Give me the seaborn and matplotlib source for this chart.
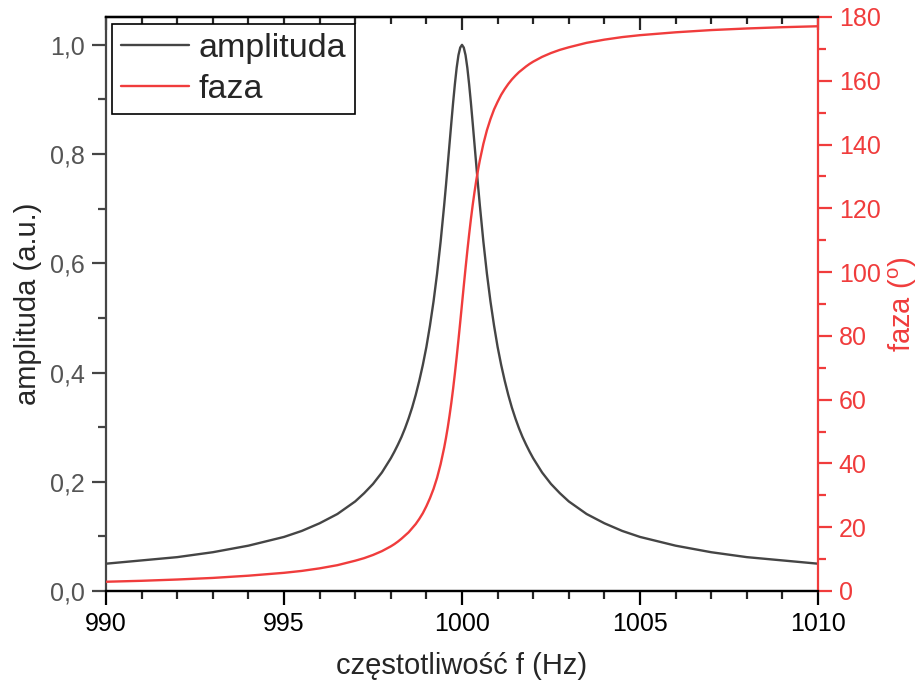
import numpy as np
import pandas as pd
import seaborn as sns
import matplotlib
matplotlib.use('Agg')
from matplotlib import pyplot as plt
from matplotlib.ticker import MultipleLocator, FuncFormatter


# values
frequency = [
    990.0, 991.0, 992.0, 993.0, 994.0, 995.0, 995.5, 996.0, 996.5, 997.0,
    997.25, 997.5, 997.75, 998.0, 998.1, 998.2, 998.3, 998.4, 998.5, 998.6,
    998.7, 998.8, 998.9, 999.0, 999.1, 999.2, 999.3, 999.4, 999.5, 999.55,
    999.6, 999.65, 999.7, 999.75, 999.8, 999.85, 999.9, 999.95, 1000.0,
    1000.05, 1000.1, 1000.15, 1000.2, 1000.25, 1000.3, 1000.35, 1000.4,
    1000.45, 1000.5, 1000.6, 1000.7, 1000.8, 1000.9, 1001.0, 1001.1, 1001.2,
    1001.3, 1001.4, 1001.5, 1001.6, 1001.7, 1001.8, 1001.9, 1002.0, 1002.25,
    1002.5, 1002.75, 1003.0, 1003.5, 1004.0, 1004.5, 1005.0, 1006.0, 1007.0,
    1008.0, 1009.0, 1010.0,
]
amplitude = [
    0.050, 0.056, 0.062, 0.071, 0.083, 0.099, 0.110, 0.124, 0.141, 0.164,
    0.179, 0.196, 0.217, 0.243, 0.255, 0.268, 0.282, 0.298, 0.316, 0.336,
    0.359, 0.385, 0.414, 0.447, 0.486, 0.530, 0.581, 0.640, 0.707, 0.743,
    0.781, 0.819, 0.857, 0.894, 0.928, 0.958, 0.981, 0.995, 1.000,
    0.995, 0.981, 0.958, 0.928, 0.894, 0.857, 0.819, 0.781,
    0.743, 0.707, 0.640, 0.581, 0.530, 0.486, 0.447, 0.414, 0.385,
    0.359, 0.336, 0.316, 0.298, 0.282, 0.268, 0.255, 0.243, 0.217,
    0.196, 0.179, 0.164, 0.141, 0.124, 0.110, 0.099, 0.083, 0.071,
    0.062, 0.056, 0.050,
]
phase = [
    2.9, 3.2, 3.6, 4.1, 4.8, 5.7, 6.3, 7.1, 8.1, 9.5,
    10.3, 11.3, 12.5, 14.0, 14.7, 15.5, 16.4, 17.4, 18.4, 19.7,
    21.0, 22.6, 24.4, 26.6, 29.1, 32.0, 35.5, 39.8, 45.0, 48.0,
    51.3, 55.0, 59.0, 63.4, 68.2, 73.3, 78.7, 84.3, 90.0,
    95.7, 101.3, 106.7, 111.8, 116.6, 121.0, 125.0, 128.7,
    132.0, 135.0, 140.2, 144.5, 148.0, 151.0, 153.4, 155.6, 157.4,
    159.0, 160.4, 161.6, 162.7, 163.6, 164.5, 165.3, 166.0, 167.5,
    168.7, 169.7, 170.5, 171.9, 172.9, 173.7, 174.3, 175.2, 175.9,
    176.4, 176.8, 177.1,
]

GRAY = '#454545'
RED = '#f03c3c'

sns.set_style('ticks')
plt.rcParams['font.family'] = ['Liberation Sans', 'DejaVu Sans']

data = pd.DataFrame({'f': frequency, 'amplituda': amplitude, 'faza': phase})

fig = plt.figure(figsize=(9.22, 6.84), dpi=100)
ax = fig.add_axes([106 / 922, 93 / 684, 712 / 922, 574 / 684])
ax2 = ax.twinx()

sns.lineplot(data=data, x='f', y='amplituda', ax=ax, color=GRAY, lw=1.7,
             sort=False, estimator=None, label='amplituda', legend=False)
sns.lineplot(data=data, x='f', y='faza', ax=ax2, color=RED, lw=1.7,
             sort=False, estimator=None, label='faza', legend=False)

ax.set_xlim(990, 1010)
ax.set_ylim(0, 1.051)
ax2.set_ylim(0, 180)

ax.xaxis.set_major_locator(MultipleLocator(5))
ax.xaxis.set_minor_locator(MultipleLocator(1))
ax.yaxis.set_major_locator(MultipleLocator(0.2))
ax.yaxis.set_minor_locator(MultipleLocator(0.1))
ax.yaxis.set_major_formatter(FuncFormatter(lambda v, _: f'{v:.1f}'.replace('.', ',')))
ax2.yaxis.set_major_locator(MultipleLocator(20))
ax2.yaxis.set_minor_locator(MultipleLocator(10))

for a in (ax, ax2):
    for side in a.spines.values():
        side.set_linewidth(1.6)
        side.set_visible(True)
ax.spines['left'].set_color(GRAY)
ax2.spines['left'].set_visible(False)
ax2.spines['right'].set_color(RED)
ax.spines['right'].set_visible(False)
ax2.spines['top'].set_color('black')
ax2.spines['bottom'].set_color('black')

ax.tick_params(axis='x', which='major', direction='out', length=10, width=1.6,
               labelsize=18, colors='black', pad=5)
ax.tick_params(axis='x', which='minor', direction='out', length=6, width=1.6)
ax.tick_params(axis='y', which='major', direction='out', length=10, width=1.6,
               labelsize=18, color=GRAY, labelcolor='#555555', pad=5)
ax.tick_params(axis='y', which='minor', direction='out', length=6, width=1.6,
               color=GRAY)
ax2.tick_params(axis='y', which='major', direction='out', length=10, width=1.6,
                labelsize=18, color=RED, labelcolor=RED, pad=5)
ax2.tick_params(axis='y', which='minor', direction='out', length=6, width=1.6,
                color=RED)

top = ax.secondary_xaxis('top')
top.xaxis.set_major_locator(MultipleLocator(5))
top.xaxis.set_minor_locator(MultipleLocator(1))
top.tick_params(which='major', direction='in', length=9, width=1.6, labeltop=False)
top.tick_params(which='minor', direction='in', length=5, width=1.6)
top.spines['top'].set_linewidth(1.6)

ax.set_xlabel('częstotliwość f (Hz)', fontsize=21, labelpad=12)
ax.set_ylabel('amplituda (a.u.)', fontsize=21, labelpad=6)
ax2.set_ylabel(r'faza ($\mathregular{^o}$)', fontsize=21, color=RED, labelpad=4)

handles = ax.get_lines()[:1] + ax2.get_lines()[:1]
leg = fig.legend(handles, ['amplituda', 'faza'], loc='upper left',
                 bbox_to_anchor=(112 / 922, 1 - 24 / 684), fontsize=24.5,
                 frameon=True, fancybox=False, edgecolor='black', framealpha=1,
                 borderpad=0.25, borderaxespad=0, handlelength=2.0,
                 handletextpad=0.3, labelspacing=0.32)
leg.get_frame().set_linewidth(1.2)

fig.savefig('out.png', dpi=100)
